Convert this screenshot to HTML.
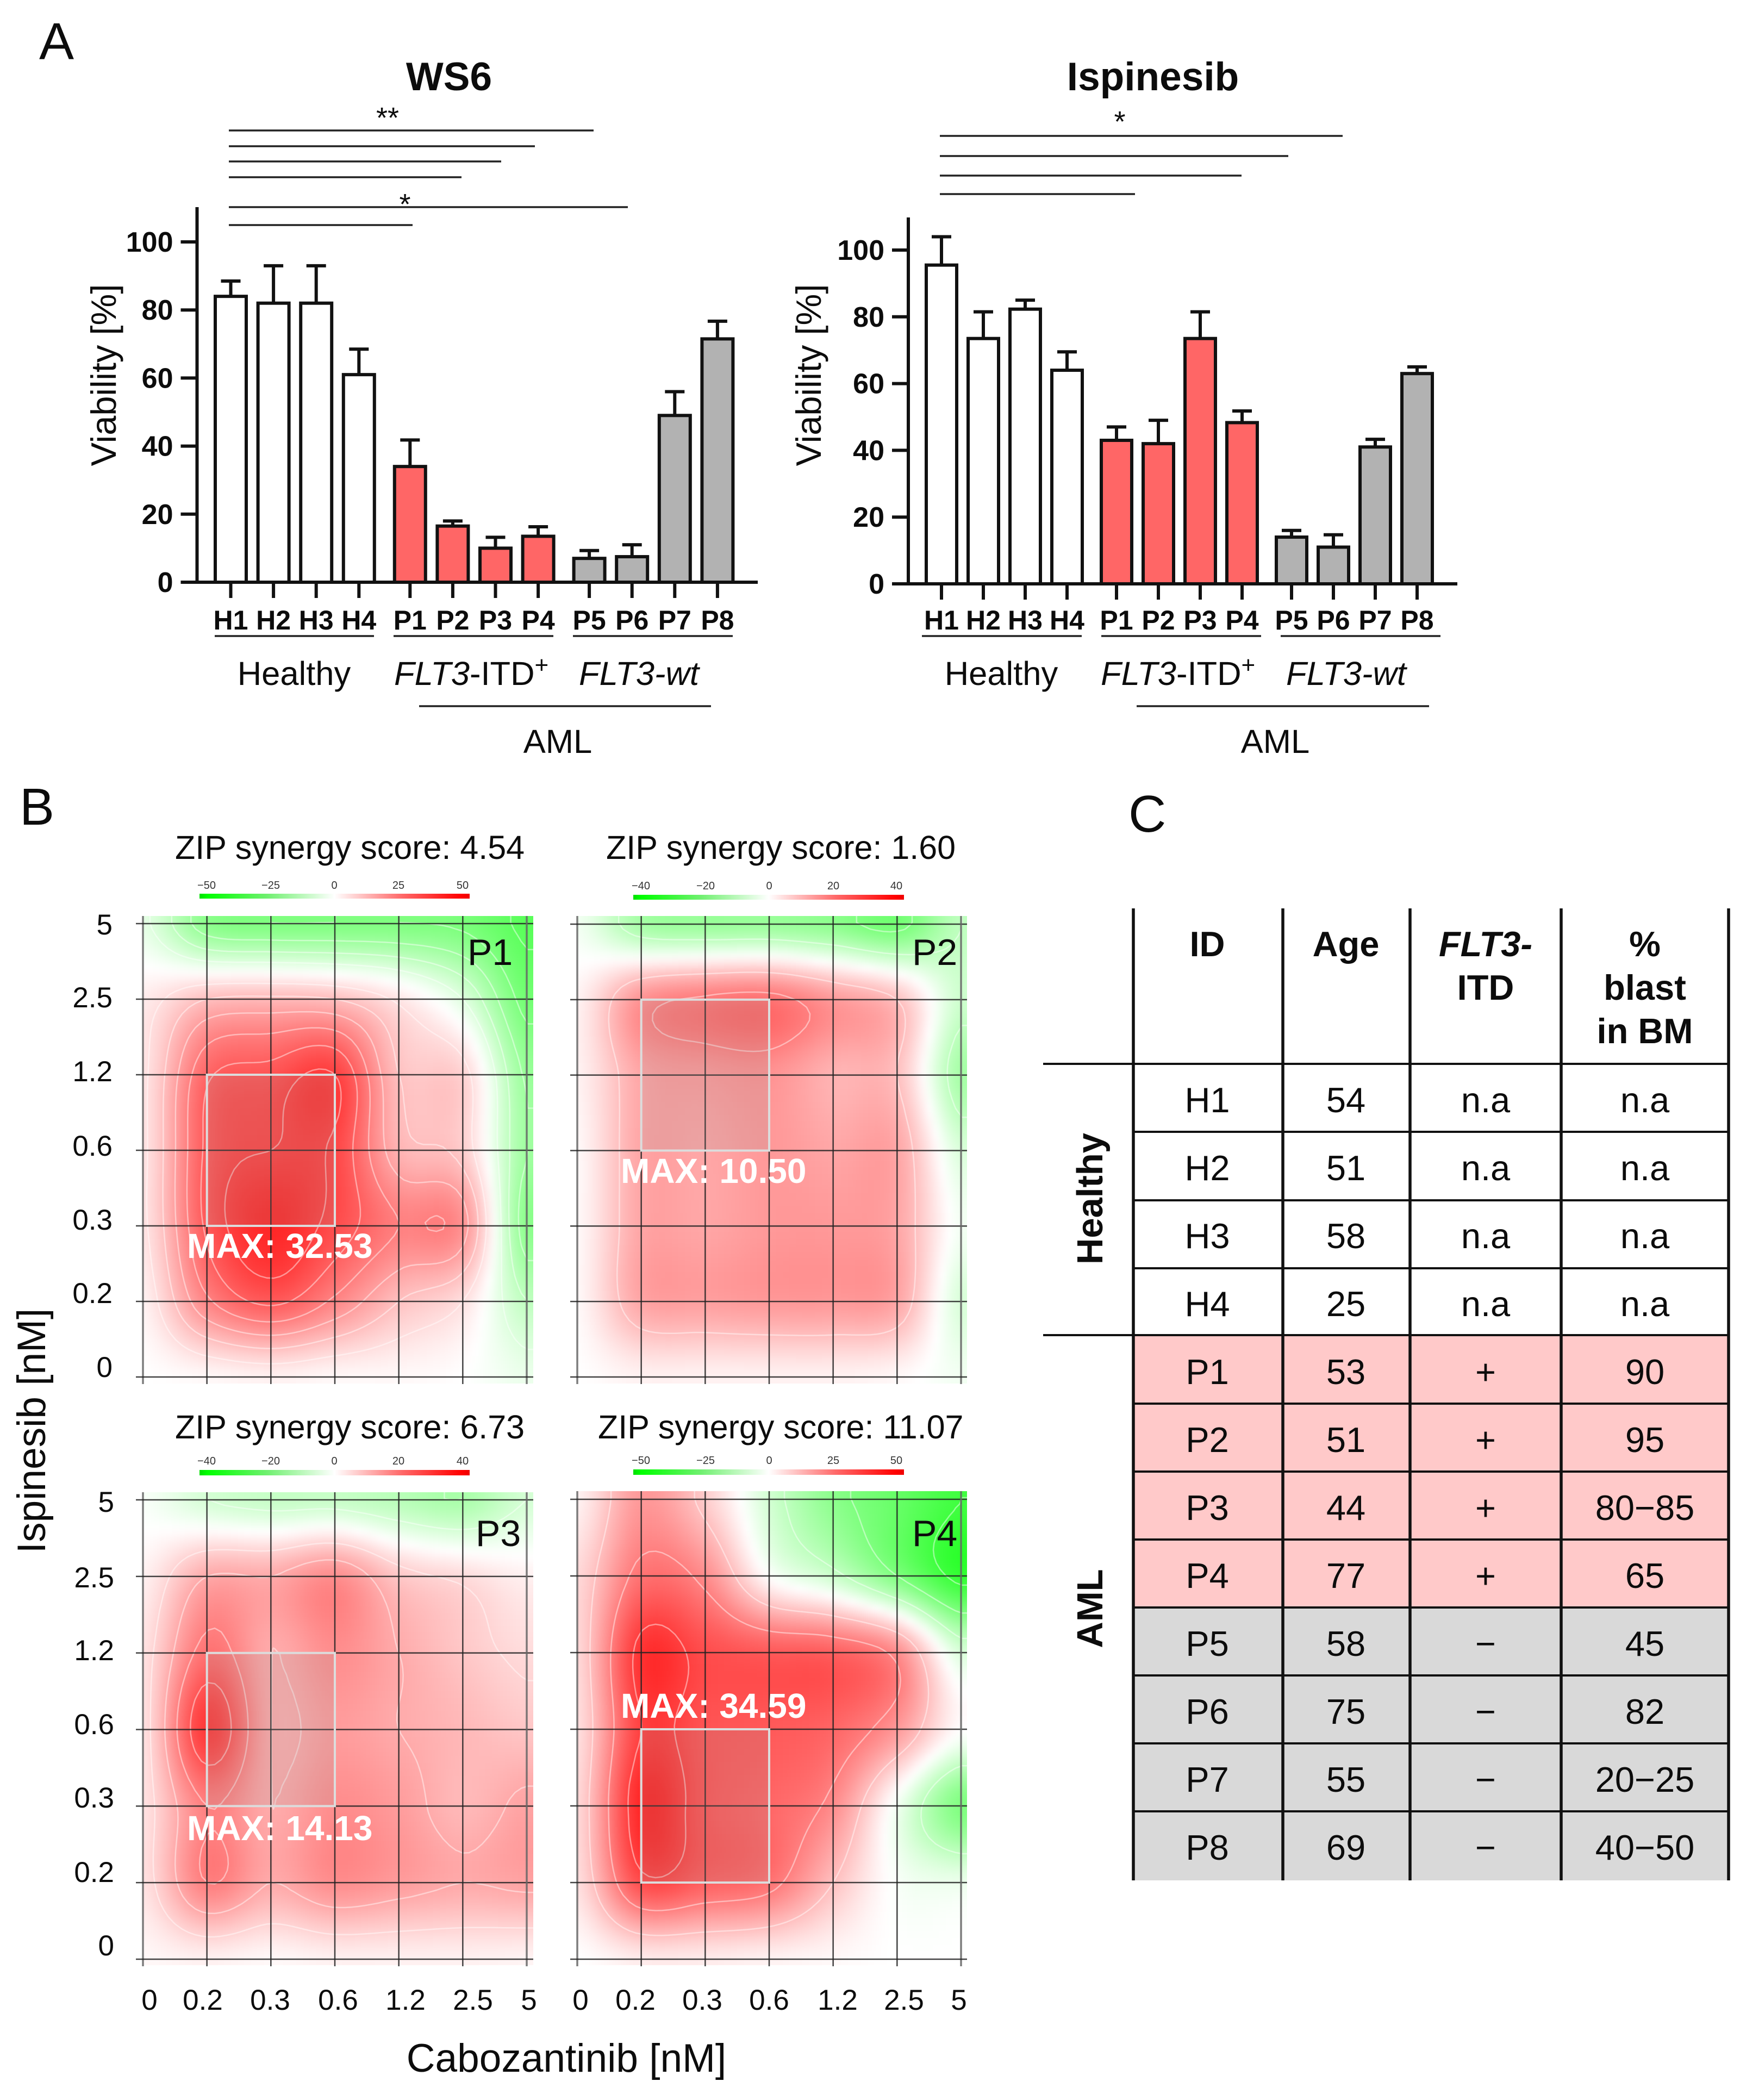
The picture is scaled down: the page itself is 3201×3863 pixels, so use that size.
<!DOCTYPE html>
<html lang="en">
<head>
<meta charset="utf-8">
<title>WS6 and Ispinesib viability, ZIP synergy and patient table</title>
<style>
html,body{margin:0;padding:0;background:#fff}
svg{display:block}
text{font-family:"Liberation Sans",sans-serif;fill:#0c0c0c}
.b{font-weight:bold}
.i{font-style:italic}
.tick{font-size:53px}
.group{font-size:61.5px}
.zip{font-size:61px}
.cb{font-size:20px;text-anchor:middle;fill:#333}
.max{font-size:64px;font-weight:bold;fill:#fff}
.pl{font-size:68px}
.cell{font-size:65px;text-anchor:middle}
.head{font-size:65px;font-weight:bold;text-anchor:middle}
.hl{stroke:#222;stroke-width:3.5;fill:none}
.tl{stroke:#111;stroke-width:5.5;fill:none}
.tr{stroke:#111;stroke-width:4;fill:none}
.box{fill:rgba(150,150,150,.18);stroke:#dcdcdc;stroke-width:4}
</style>
</head>
<body>
<svg id="figure" xmlns="http://www.w3.org/2000/svg" width="3201" height="3863" viewBox="0 0 3201 3863">
<defs>
<linearGradient id="cbGrad" x1="0" x2="1" y1="0" y2="0">
<stop offset="0" stop-color="#00e000"/><stop offset=".03" stop-color="#00ff00"/><stop offset=".25" stop-color="#70f070"/><stop offset=".5" stop-color="#ffffff"/><stop offset=".75" stop-color="#ff6868"/><stop offset=".97" stop-color="#ff0000"/><stop offset="1" stop-color="#ee0000"/>
</linearGradient>
<filter id="soften" x="-6%" y="-6%" width="112%" height="112%" color-interpolation-filters="sRGB"><feGaussianBlur stdDeviation="6"/></filter>
</defs>
<rect x="0" y="0" width="3201" height="3863" fill="#fff"/>

<text x="72" y="109" font-size="96">A</text>
<text x="36" y="1517" font-size="96">B</text>
<text x="2076" y="1530" font-size="96">C</text>

<g id="chartWs6">
<text class="b" x="826" y="166" font-size="73" text-anchor="middle">WS6</text>
<text font-size="65" text-anchor="middle" transform="translate(213 690) rotate(-90)">Viability [%]</text>
<g class="sig">
<line class="hl" x1="421" x2="1092" y1="240" y2="240"/>
<line class="hl" x1="421" x2="984" y1="269" y2="269"/>
<line class="hl" x1="421" x2="922" y1="297" y2="297"/>
<line class="hl" x1="421" x2="849" y1="326" y2="326"/>
<line class="hl" x1="421" x2="1155" y1="381" y2="381"/>
<line class="hl" x1="421" x2="759" y1="414" y2="414"/>
<text x="713" y="235" font-size="54" text-anchor="middle">**</text>
<text x="745" y="394" font-size="54" text-anchor="middle">*</text>
</g>
<line class="hl" x1="395" x2="688" y1="1170" y2="1170"/>
<line class="hl" x1="724" x2="1018" y1="1170" y2="1170"/>
<line class="hl" x1="1054" x2="1348" y1="1170" y2="1170"/>
<text class="group" x="541" y="1260" text-anchor="middle">Healthy</text>
<text class="group" x="725" y="1260"><tspan class="i">FLT3</tspan>-ITD<tspan dy="-22" font-size="44">+</tspan></text>
<text class="group i" x="1065" y="1260">FLT3-wt</text>
<line class="hl" x1="771" x2="1308" y1="1299" y2="1299"/>
<text class="group" x="1026" y="1385" text-anchor="middle">AML</text>
</g>

<g id="chartIsp">
<text class="b" x="2121" y="166" font-size="73" text-anchor="middle">Ispinesib</text>
<text font-size="65" text-anchor="middle" transform="translate(1510 690) rotate(-90)">Viability [%]</text>
<g>
<line class="hl" x1="1729" x2="2470" y1="250" y2="250"/>
<line class="hl" x1="1729" x2="2370" y1="287" y2="287"/>
<line class="hl" x1="1729" x2="2284" y1="323" y2="323"/>
<line class="hl" x1="1729" x2="2088" y1="357" y2="357"/>
<text x="2060" y="242" font-size="54" text-anchor="middle">*</text>
</g>
<line class="hl" x1="1696" x2="1990" y1="1170" y2="1170"/>
<line class="hl" x1="2026" x2="2320" y1="1170" y2="1170"/>
<line class="hl" x1="2356" x2="2650" y1="1170" y2="1170"/>
<text class="group" x="1842" y="1260" text-anchor="middle">Healthy</text>
<text class="group" x="2025" y="1260"><tspan class="i">FLT3</tspan>-ITD<tspan dy="-22" font-size="44">+</tspan></text>
<text class="group i" x="2366" y="1260">FLT3-wt</text>
<line class="hl" x1="2091" x2="2629" y1="1299" y2="1299"/>
<text class="group" x="2346" y="1385" text-anchor="middle">AML</text>
</g>

<g id="heatP1"></g>
<g id="heatP2"></g>
<g id="heatP3"></g>
<g id="heatP4"></g>

<g>
<text class="zip" x="322" y="1580">ZIP synergy score: 4.54</text>
<text class="zip" x="1115" y="1580">ZIP synergy score: 1.60</text>
<text class="zip" x="322" y="2646">ZIP synergy score: 6.73</text>
<text class="zip" x="1100" y="2646">ZIP synergy score: 11.07</text>

<rect x="367" y="1644" width="497" height="9" fill="url(#cbGrad)"/>
<rect x="1165" y="1646" width="498" height="9" fill="url(#cbGrad)"/>
<rect x="367" y="2704" width="497" height="10" fill="url(#cbGrad)"/>
<rect x="1165" y="2703" width="498" height="10" fill="url(#cbGrad)"/>

<text class="cb" x="380" y="1635">−50</text>
<text class="cb" x="498" y="1635">−25</text>
<text class="cb" x="615" y="1635">0</text>
<text class="cb" x="733" y="1635">25</text>
<text class="cb" x="851" y="1635">50</text>
<text class="cb" x="1179" y="1636">−40</text>
<text class="cb" x="1298" y="1636">−20</text>
<text class="cb" x="1415" y="1636">0</text>
<text class="cb" x="1533" y="1636">20</text>
<text class="cb" x="1649" y="1636">40</text>
<text class="cb" x="380" y="2694">−40</text>
<text class="cb" x="498" y="2694">−20</text>
<text class="cb" x="615" y="2694">0</text>
<text class="cb" x="733" y="2694">20</text>
<text class="cb" x="851" y="2694">40</text>
<text class="cb" x="1179" y="2693">−50</text>
<text class="cb" x="1298" y="2693">−25</text>
<text class="cb" x="1415" y="2693">0</text>
<text class="cb" x="1533" y="2693">25</text>
<text class="cb" x="1649" y="2693">50</text>

<text class="pl" x="860" y="1775">P1</text>
<text class="pl" x="1678" y="1775">P2</text>
<text class="pl" x="875" y="2844">P3</text>
<text class="pl" x="1678" y="2844">P4</text>

<text class="max" x="344" y="2314">MAX: 32.53</text>
<text class="max" x="1142" y="2176">MAX: 10.50</text>
<text class="max" x="344" y="3385">MAX: 14.13</text>
<text class="max" x="1142" y="3160">MAX: 34.59</text>

<text class="tick" text-anchor="end" x="207" y="1719">5</text>
<text class="tick" text-anchor="end" x="207" y="1853">2.5</text>
<text class="tick" text-anchor="end" x="207" y="1989">1.2</text>
<text class="tick" text-anchor="end" x="207" y="2126">0.6</text>
<text class="tick" text-anchor="end" x="207" y="2262">0.3</text>
<text class="tick" text-anchor="end" x="207" y="2397">0.2</text>
<text class="tick" text-anchor="end" x="207" y="2533">0</text>
<text class="tick" text-anchor="end" x="210" y="2781">5</text>
<text class="tick" text-anchor="end" x="210" y="2920">2.5</text>
<text class="tick" text-anchor="end" x="210" y="3054">1.2</text>
<text class="tick" text-anchor="end" x="210" y="3190">0.6</text>
<text class="tick" text-anchor="end" x="210" y="3325">0.3</text>
<text class="tick" text-anchor="end" x="210" y="3462">0.2</text>
<text class="tick" text-anchor="end" x="210" y="3597">0</text>

<text class="tick" text-anchor="middle" x="275" y="3697">0</text>
<text class="tick" text-anchor="middle" x="373" y="3697">0.2</text>
<text class="tick" text-anchor="middle" x="497" y="3697">0.3</text>
<text class="tick" text-anchor="middle" x="622" y="3697">0.6</text>
<text class="tick" text-anchor="middle" x="746" y="3697">1.2</text>
<text class="tick" text-anchor="middle" x="870" y="3697">2.5</text>
<text class="tick" text-anchor="middle" x="973" y="3697">5</text>
<text class="tick" text-anchor="middle" x="1068" y="3697">0</text>
<text class="tick" text-anchor="middle" x="1169" y="3697">0.2</text>
<text class="tick" text-anchor="middle" x="1292" y="3697">0.3</text>
<text class="tick" text-anchor="middle" x="1415" y="3697">0.6</text>
<text class="tick" text-anchor="middle" x="1541" y="3697">1.2</text>
<text class="tick" text-anchor="middle" x="1663" y="3697">2.5</text>
<text class="tick" text-anchor="middle" x="1764" y="3697">5</text>

<text x="1042" y="3811" font-size="73" text-anchor="middle">Cabozantinib [nM]</text>
<text font-size="73" text-anchor="middle" transform="translate(83 2632) rotate(-90)">Ispinesib [nM]</text>
</g>

<g id="patientTable">
<rect x="2085" y="2456" width="1095" height="501" fill="#ffc9c9"/>
<rect x="2085" y="2957" width="1095" height="502" fill="#d9d9d9"/>
<line class="tr" x1="1919" x2="3180" y1="1957" y2="1957"/>
<line class="tr" x1="2085" x2="3180" y1="2082" y2="2082"/>
<line class="tr" x1="2085" x2="3180" y1="2208" y2="2208"/>
<line class="tr" x1="2085" x2="3180" y1="2333" y2="2333"/>
<line class="tr" x1="1919" x2="3180" y1="2456" y2="2456"/>
<line class="tr" x1="2085" x2="3180" y1="2582" y2="2582"/>
<line class="tr" x1="2085" x2="3180" y1="2707" y2="2707"/>
<line class="tr" x1="2085" x2="3180" y1="2832" y2="2832"/>
<line class="tr" x1="2085" x2="3180" y1="2957" y2="2957"/>
<line class="tr" x1="2085" x2="3180" y1="3082" y2="3082"/>
<line class="tr" x1="2085" x2="3180" y1="3207" y2="3207"/>
<line class="tr" x1="2085" x2="3180" y1="3332" y2="3332"/>
<line class="tl" x1="2085" x2="2085" y1="1671" y2="3459"/>
<line class="tl" x1="2360" x2="2360" y1="1671" y2="3459"/>
<line class="tl" x1="2594" x2="2594" y1="1671" y2="3459"/>
<line class="tl" x1="2872" x2="2872" y1="1671" y2="3459"/>
<line class="tl" x1="3180" x2="3180" y1="1671" y2="3459"/>

<text class="head" x="2221" y="1759">ID</text>
<text class="head" x="2476" y="1759">Age</text>
<text class="head i" x="2733" y="1759">FLT3-</text>
<text class="head" x="2733" y="1839">ITD</text>
<text class="head" x="3026" y="1759">%</text>
<text class="head" x="3026" y="1839">blast</text>
<text class="head" x="3026" y="1919">in BM</text>

<text class="b" font-size="67" text-anchor="middle" transform="translate(2028 2205) rotate(-90)">Healthy</text>
<text class="b" font-size="67" text-anchor="middle" transform="translate(2028 2959) rotate(-90)">AML</text>

<g transform="translate(0 3)">
<text class="cell" x="2221" y="2043">H1</text><text class="cell" x="2476" y="2043">54</text><text class="cell" x="2733" y="2043">n.a</text><text class="cell" x="3026" y="2043">n.a</text>
<text class="cell" x="2221" y="2168">H2</text><text class="cell" x="2476" y="2168">51</text><text class="cell" x="2733" y="2168">n.a</text><text class="cell" x="3026" y="2168">n.a</text>
<text class="cell" x="2221" y="2293">H3</text><text class="cell" x="2476" y="2293">58</text><text class="cell" x="2733" y="2293">n.a</text><text class="cell" x="3026" y="2293">n.a</text>
<text class="cell" x="2221" y="2418">H4</text><text class="cell" x="2476" y="2418">25</text><text class="cell" x="2733" y="2418">n.a</text><text class="cell" x="3026" y="2418">n.a</text>
<text class="cell" x="2221" y="2543">P1</text><text class="cell" x="2476" y="2543">53</text><text class="cell" x="2733" y="2543">+</text><text class="cell" x="3026" y="2543">90</text>
<text class="cell" x="2221" y="2668">P2</text><text class="cell" x="2476" y="2668">51</text><text class="cell" x="2733" y="2668">+</text><text class="cell" x="3026" y="2668">95</text>
<text class="cell" x="2221" y="2793">P3</text><text class="cell" x="2476" y="2793">44</text><text class="cell" x="2733" y="2793">+</text><text class="cell" x="3026" y="2793">80−85</text>
<text class="cell" x="2221" y="2918">P4</text><text class="cell" x="2476" y="2918">77</text><text class="cell" x="2733" y="2918">+</text><text class="cell" x="3026" y="2918">65</text>
<text class="cell" x="2221" y="3043">P5</text><text class="cell" x="2476" y="3043">58</text><text class="cell" x="2733" y="3043">−</text><text class="cell" x="3026" y="3043">45</text>
<text class="cell" x="2221" y="3168">P6</text><text class="cell" x="2476" y="3168">75</text><text class="cell" x="2733" y="3168">−</text><text class="cell" x="3026" y="3168">82</text>
<text class="cell" x="2221" y="3293">P7</text><text class="cell" x="2476" y="3293">55</text><text class="cell" x="2733" y="3293">−</text><text class="cell" x="3026" y="3293">20−25</text>
<text class="cell" x="2221" y="3418">P8</text><text class="cell" x="2476" y="3418">69</text><text class="cell" x="2733" y="3418">−</text><text class="cell" x="3026" y="3418">40−50</text>
</g>
</g>
</svg>
<script>
// ---- bar chart data ----
const categories = ['H1','H2','H3','H4','P1','P2','P3','P4','P5','P6','P7','P8'];
const yTickLabels = [0,20,40,60,80,100];
const ws6Values = [84,82,82,61,34,16.5,10,13.5,7,7.5,49,71.5];
const ws6ErrorTops = [88.5,93,93,68.5,41.8,18,13.2,16.3,9.3,11,56,76.7];
const ispValues = [95.5,73.5,82.3,64,43,42,73.5,48.3,14,11,41,63];
const ispErrorTops = [104,81.5,85,69.5,47,49,81.5,51.8,16,14.7,43.3,65];
const groupFills = ['#ffffff','#ff6666','#b2b2b2'];

// ---- synergy matrices: rows Ispinesib 5,2.5,1.2,0.6,0.3,0.2,0; columns Cabozantinib 0,0.2,0.3,0.6,1.2,2.5,5 ----
const doseLabels = ['0','0.2','0.3','0.6','1.2','2.5','5'];
const p1Synergy = [
 [-4,-18,-20,-20,-20,-21,-26],
 [3,10,11,10,4,-5,-22],
 [4,24,27,30,10,7,-16],
 [4,26,30,29,12,8,-15],
 [4,26,34,28,20,17,-18],
 [2,19,26,19,10,5,-10],
 [0,1,2,1,1,0,-3]];
const p2Synergy = [
 [-1,-7,-8,-8,-9,-11,-5],
 [1,8.5,10.5,11,8,5,-4],
 [1,7,8,8.5,6,5,-7],
 [.5,7,7,8,7,7,-3],
 [.5,7,7,8,8,7,-1],
 [.5,7,7.5,8,8,7,-3],
 [0,1,1,1,1,.5,-1]];
const p3Synergy = [
 [-.5,-3,-4,-4,-5,-6,-3],
 [1,6,6,8,4,2.5,1],
 [2,10,6,8,6,4,2.5],
 [2,14,6,7,6,5,4],
 [2,9,6,8,7,5,6.5],
 [2,9,6,8,7,6,6.5],
 [.5,1,.5,1,1,1,.8]];
const p4Synergy = [
 [2,16,8,-7,-18,-24,-30],
 [6,22,18,0,-8,-20,-32],
 [6,32,28,26,25,18,-6],
 [5,30,27,26,24,16,0],
 [6,34,27,24,18,-2,-20],
 [5,28,25,22,10,-1,-3],
 [0,3,3,2,1,0,0]];

const NS = 'http://www.w3.org/2000/svg';
function mk(parent, tag, attrs, txt){
  const el = document.createElementNS(NS, tag);
  for (const k in attrs) el.setAttribute(k, attrs[k]);
  if (txt !== undefined) el.textContent = txt;
  parent.appendChild(el);
  return el;
}

function drawBars(host, prefix, values, errorTops, g){
  const yScale = v => g.y0 - v * g.pxPerUnit;
  const xScale = i => g.x0 + i * g.step + Math.floor(i / 4) * g.gap;
  const sw = 6;
  yTickLabels.forEach(t => {
    const tick = mk(host, 'line', {x1:g.axisX-30, x2:g.axisX, y1:yScale(t), y2:yScale(t), stroke:'#111', 'stroke-width':sw});
    
    
    const lab = mk(host, 'text', {x:g.axisX-44, y:yScale(t)+18, 'text-anchor':'end', 'font-size':52, 'font-weight':'bold'}, String(t));
    
    
  });
  categories.forEach((c, i) => {
    const x = xScale(i);
    const err = mk(host, 'path', {d:'M'+x+' '+yScale(values[i])+'V'+yScale(errorTops[i])+'M'+(x-18)+' '+yScale(errorTops[i])+'H'+(x+18), stroke:'#111', 'stroke-width':sw, fill:'none'});
    
    
    const bar = mk(host, 'rect', {x:x-g.barW/2, y:yScale(values[i]), width:g.barW, height:yScale(0)-yScale(values[i]), fill:groupFills[Math.floor(i/4)], stroke:'#111', 'stroke-width':sw});
    
    
    const tk = mk(host, 'line', {x1:x, x2:x, y1:g.y0, y2:g.y0+29, stroke:'#111', 'stroke-width':sw});
    
    
    const lab = mk(host, 'text', {x:x, y:1158, 'text-anchor':'middle', 'font-size':50, 'font-weight':'bold'}, c);
    
    
  });
  const yAxis = mk(host, 'line', {x1:g.axisX, x2:g.axisX, y1:g.axisTop, y2:g.y0+3, stroke:'#111', 'stroke-width':sw});
  
  
  const xAxis = mk(host, 'line', {x1:g.axisX-30, x2:g.axisRight, y1:g.y0, y2:g.y0, stroke:'#111', 'stroke-width':sw});
  
  
}
drawBars(document.getElementById('chartWs6'), 'ws6', ws6Values, ws6ErrorTops,
  {y0:1071, pxPerUnit:6.26, x0:424.5, step:78.6, gap:15.4, barW:57, axisX:362.5, axisTop:381, axisRight:1394});
drawBars(document.getElementById('chartIsp'), 'ispinesib', ispValues, ispErrorTops,
  {y0:1074, pxPerUnit:6.14, x0:1732, step:77, gap:14, barW:56, axisX:1671, axisTop:400, axisRight:2681});

// ---- heatmaps ----
function cubic(a,b,c,d,t){
  return 0.5*((2*b)+(-a+c)*t+(2*a-5*b+4*c-d)*t*t+(-a+3*b-3*c+d)*t*t*t);
}
function sample(m,u,v){
  const cl=(k,n)=>Math.max(0,Math.min(n,k));
  u=cl(u,6); v=cl(v,6);
  const iu=Math.min(5,Math.floor(u)), iv=Math.min(5,Math.floor(v));
  const fu=u-iu, fv=v-iv, rows=[];
  for(let r=-1;r<=2;r++){
    const row=m[cl(iv+r,6)];
    rows.push(cubic(row[cl(iu-1,6)],row[iu],row[cl(iu+1,6)],row[cl(iu+2,6)],fu));
  }
  return cubic(rows[0],rows[1],rows[2],rows[3],fv);
}
function colorFor(v,span){
  const t=Math.max(-1,Math.min(1,v/span));
  const k=Math.round(255*(1-Math.abs(t)));
  return t>=0?'rgb(255,'+k+','+k+')':'rgb('+k+',255,'+k+')';
}
function drawHeat(host, name, matrix, g){
  const xAt = u => g.left + u*(g.right-g.left)/6;
  const yAt = v => g.top + v*(g.bottom-g.top)/6;
  const uAt = x => (x-g.left)*6/(g.right-g.left);
  const vAt = y => (y-g.top)*6/(g.bottom-g.top);
  const clipId = 'clip'+name;
  const defs = mk(host,'defs',{});
  const cp = mk(defs,'clipPath',{id:clipId});
  mk(cp,'rect',{x:g.fillLeft,y:g.fillTop,width:g.fillRight-g.fillLeft,height:g.fillBottom-g.fillTop});
  const clip = mk(host,'g',{'clip-path':'url(#'+clipId+')'});
  
  
  const field = mk(clip,'g',{filter:'url(#soften)','shape-rendering':'crispEdges'});
  const S = 12, xs=[], ys=[], grid=[];
  for(let x=g.fillLeft-24;x<=g.fillRight+24;x+=S) xs.push(x);
  for(let y=g.fillTop-24;y<=g.fillBottom+24;y+=S) ys.push(y);
  ys.forEach((y,j)=>{
    grid[j]=[];
    xs.forEach((x,i)=>{
      const val = sample(matrix,uAt(x),vAt(y));
      grid[j][i]=val;
      const cell = mk(field,'rect',{x:x-S/2,y:y-S/2,width:S+1,height:S+1,fill:colorFor(val,g.span)});
      
      
    });
  });
  // contours by marching squares over the sampled field
  for(let k=-8;k<=8;k++){
    if(!k) continue;
    const L=k*g.contourStep; let d='';
    for(let j=0;j<ys.length-1;j++) for(let i=0;i<xs.length-1;i++){
      const a=grid[j][i],b=grid[j][i+1],c=grid[j+1][i+1],e=grid[j+1][i],pts=[];
      if((a<L)!==(b<L)) pts.push([xs[i]+S*(L-a)/(b-a),ys[j]]);
      if((b<L)!==(c<L)) pts.push([xs[i+1],ys[j]+S*(L-b)/(c-b)]);
      if((e<L)!==(c<L)) pts.push([xs[i]+S*(L-e)/(c-e),ys[j+1]]);
      if((a<L)!==(e<L)) pts.push([xs[i],ys[j]+S*(L-a)/(e-a)]);
      for(let p=0;p+1<pts.length;p+=2) d+='M'+pts[p][0].toFixed(1)+' '+pts[p][1].toFixed(1)+'L'+pts[p+1][0].toFixed(1)+' '+pts[p+1][1].toFixed(1);
    }
    if(d){
      const contour = mk(clip,'path',{d:d,fill:'none',stroke:'#fff','stroke-opacity':.45,'stroke-width':2.5,'stroke-linecap':'round'});
      
      
    }
  }
  doseLabels.forEach((lab,i)=>{
    const edge = (i===0||i===6);
    const vx = mk(host,'line',{x1:xAt(i),x2:xAt(i),y1:g.fillTop,y2:g.bottom+13,stroke:edge?'#666':'#222','stroke-width':edge?3.5:2.5,'stroke-opacity':.85});
    
    
    const hz = mk(host,'line',{x1:g.left-13,x2:g.fillRight,y1:yAt(i),y2:yAt(i),stroke:'#222','stroke-width':2.5,'stroke-opacity':.85});
    
    
  });
  const box = mk(host,'rect',{x:xAt(g.box[0]),y:yAt(g.box[1]),width:xAt(g.box[2])-xAt(g.box[0]),height:yAt(g.box[3])-yAt(g.box[1]),class:'box'});
  
  
}
drawHeat(document.getElementById('heatP1'),'p1',p1Synergy,{left:263,right:969,top:1699,bottom:2533,fillLeft:263,fillRight:981,fillTop:1685,fillBottom:2545,span:40,contourStep:5,box:[1,2,3,4]});
drawHeat(document.getElementById('heatP2'),'p2',p2Synergy,{left:1062,right:1768,top:1700,bottom:2533,fillLeft:1062,fillRight:1779,fillTop:1685,fillBottom:2545,span:20,contourStep:5,box:[1,1,3,3]});
drawHeat(document.getElementById('heatP3'),'p3',p3Synergy,{left:263,right:969,top:2759,bottom:3604,fillLeft:263,fillRight:981,fillTop:2745,fillBottom:3615,span:18,contourStep:3,box:[1,2,3,4]});
drawHeat(document.getElementById('heatP4'),'p4',p4Synergy,{left:1062,right:1768,top:2758,bottom:3604,fillLeft:1062,fillRight:1779,fillTop:2743,fillBottom:3615,span:40,contourStep:10,box:[1,3,3,5]});
</script>
</body>
</html>
